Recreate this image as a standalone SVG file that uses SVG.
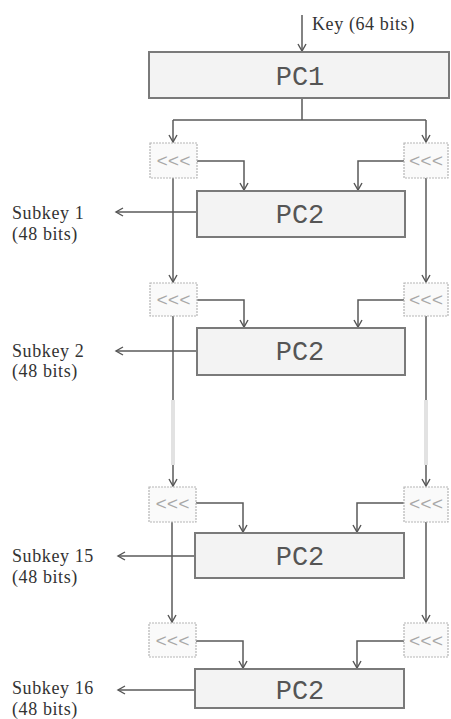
<svg xmlns="http://www.w3.org/2000/svg" width="451" height="719" viewBox="0 0 451 719">
<defs>
<marker id="ah" markerUnits="userSpaceOnUse" markerWidth="12" markerHeight="12" viewBox="-8 -6 10 12" refX="0" refY="0" orient="auto">
<path d="M-7,-4 L0,0 L-7,4" fill="none" stroke="#555" stroke-width="1.4"/>
</marker>
<style>
.ln{fill:none;stroke:#5a5a5a;stroke-width:1.5}
.fade{fill:none;stroke:#e2e2e2;stroke-width:4}
.pc{fill:#f3f3f3;stroke:#7a7a7a;stroke-width:2}
.sh{fill:#fafafa;stroke:#b5b5b5;stroke-width:1.2;stroke-dasharray:2 1}
.pct{font-family:"Liberation Mono",monospace;font-size:27px;fill:#555;text-anchor:middle}
.sht{font-family:"Liberation Mono",monospace;font-size:19px;fill:#a8a8a8;text-anchor:middle}
.lab{font-family:"Liberation Serif",serif;font-size:18px;letter-spacing:0.6px;fill:#333}
</style>
</defs>
<rect width="451" height="719" fill="#fff"/>

<g id="connectors">
<path class="ln" d="M302,15 V51" marker-end="url(#ah)"/>
<path class="ln" d="M302,98 V120 M173,120 H426"/>
<path class="ln" d="M173,120 V142" marker-end="url(#ah)"/>
<path class="ln" d="M426,120 V142" marker-end="url(#ah)"/>
<path class="ln" d="M197,161 H244 V190" marker-end="url(#ah)"/>
<path class="ln" d="M404,161 H358 V190" marker-end="url(#ah)"/>
<path class="ln" d="M196,212 H116" marker-end="url(#ah)"/>
<path class="ln" d="M173,178 V282" marker-end="url(#ah)"/>
<path class="ln" d="M426,178 V282" marker-end="url(#ah)"/>
<path class="ln" d="M197,300 H244 V327" marker-end="url(#ah)"/>
<path class="ln" d="M404,300 H358 V327" marker-end="url(#ah)"/>
<path class="ln" d="M196,351 H116" marker-end="url(#ah)"/>
<path class="ln" d="M173,316 V400"/>
<path class="ln" d="M426,316 V400"/>
<path class="fade" d="M173,400 V465 M426,400 V465"/>
<path class="ln" d="M173,465 V486" marker-end="url(#ah)"/>
<path class="ln" d="M426,465 V486" marker-end="url(#ah)"/>
<path class="ln" d="M196,503 H243 V532" marker-end="url(#ah)"/>
<path class="ln" d="M404,503 H357 V532" marker-end="url(#ah)"/>
<path class="ln" d="M195,556 H118" marker-end="url(#ah)"/>
<path class="ln" d="M172,522 V622" marker-end="url(#ah)"/>
<path class="ln" d="M426,522 V622" marker-end="url(#ah)"/>
<path class="ln" d="M196,641 H243 V668" marker-end="url(#ah)"/>
<path class="ln" d="M404,641 H357 V668" marker-end="url(#ah)"/>
<path class="ln" d="M195,690 H118" marker-end="url(#ah)"/>
</g>

<g id="key-label"><text class="lab" x="312" y="30">Key (64 bits)</text></g>

<g id="pc1"><rect class="pc" x="149" y="52" width="300" height="46"/><text class="pct" x="300" y="85">PC1</text></g>

<g id="shl-1"><rect class="sh" x="150" y="143" width="47" height="35"/><text class="sht" x="173.5" y="167">&lt;&lt;&lt;</text></g>
<g id="shr-1"><rect class="sh" x="404" y="143" width="44" height="35"/><text class="sht" x="426" y="167">&lt;&lt;&lt;</text></g>
<g id="pc2-1"><rect class="pc" x="197" y="191" width="208" height="46"/><text class="pct" x="300" y="223">PC2</text></g>
<g id="subkey-1"><text class="lab" x="12" y="219">Subkey 1</text><text class="lab" x="12" y="240">(48 bits)</text></g>

<g id="shl-2"><rect class="sh" x="150" y="283" width="47" height="33"/><text class="sht" x="173.5" y="306">&lt;&lt;&lt;</text></g>
<g id="shr-2"><rect class="sh" x="404" y="283" width="44" height="33"/><text class="sht" x="426" y="306">&lt;&lt;&lt;</text></g>
<g id="pc2-2"><rect class="pc" x="197" y="328" width="208" height="47"/><text class="pct" x="300" y="360">PC2</text></g>
<g id="subkey-2"><text class="lab" x="12" y="357">Subkey 2</text><text class="lab" x="12" y="377">(48 bits)</text></g>

<g id="shl-15"><rect class="sh" x="149" y="487" width="47" height="35"/><text class="sht" x="172.5" y="510">&lt;&lt;&lt;</text></g>
<g id="shr-15"><rect class="sh" x="404" y="487" width="44" height="35"/><text class="sht" x="426" y="510">&lt;&lt;&lt;</text></g>
<g id="pc2-15"><rect class="pc" x="195" y="533" width="209" height="45"/><text class="pct" x="300" y="565">PC2</text></g>
<g id="subkey-15"><text class="lab" x="12" y="562">Subkey 15</text><text class="lab" x="12" y="583">(48 bits)</text></g>

<g id="shl-16"><rect class="sh" x="149" y="623" width="47" height="34"/><text class="sht" x="172.5" y="647">&lt;&lt;&lt;</text></g>
<g id="shr-16"><rect class="sh" x="404" y="623" width="44" height="34"/><text class="sht" x="426" y="647">&lt;&lt;&lt;</text></g>
<g id="pc2-16"><rect class="pc" x="195" y="669" width="209" height="39"/><text class="pct" x="300" y="699">PC2</text></g>
<g id="subkey-16"><text class="lab" x="12" y="694">Subkey 16</text><text class="lab" x="12" y="715">(48 bits)</text></g>
</svg>
